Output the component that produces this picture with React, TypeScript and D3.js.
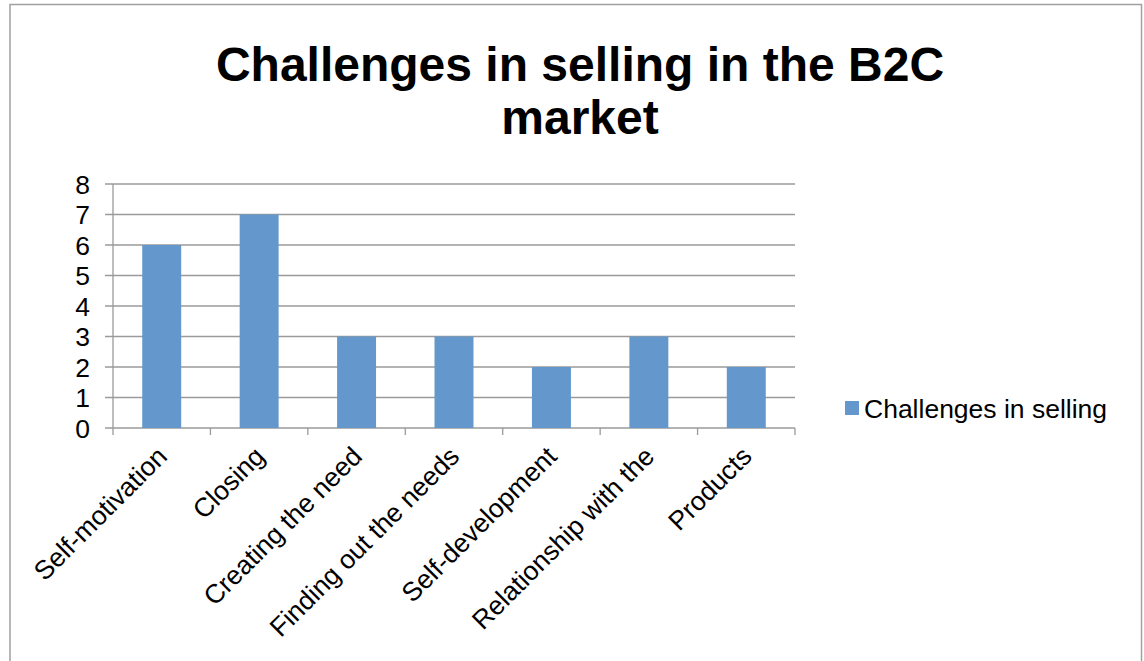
import React from "react";
import * as d3 from "d3";

const categories = [
  "Self-motivation",
  "Closing",
  "Creating the need",
  "Finding out the needs",
  "Self-development",
  "Relationship with the",
  "Products",
];
const values = [6, 7, 3, 3, 2, 3, 2];
const yTicks = [0, 1, 2, 3, 4, 5, 6, 7, 8];
const seriesName = "Challenges in selling";
const titleLines = ["Challenges in selling in the B2C", "market"];

export default function App() {
  const W = 1144;
  const H = 661;
  const left = 113;
  const right = 795;
  const top = 184;
  const bottom = 428;
  const x = d3.scaleBand<string>().domain(categories).range([left, right]).paddingInner(0).paddingOuter(0);
  const y = d3.scaleLinear().domain([0, 8]).range([bottom, top]);
  const step = x.step();
  const barW = step / 2.5;
  const font = "'Liberation Sans', Arial, sans-serif";
  const grid = "#9a9a9a";
  const barColor = "#6498cc";
  return (
    <svg width={W} height={H} style={{ position: "absolute", left: 0, top: 0 }}>
      <rect x={0} y={0} width={W} height={H} fill="#fff" />
      <rect x={10} y={4.5} width={1131.5} height={H + 10} fill="none" stroke="#a0a0a0" strokeWidth={1.5} />
      {titleLines.map((t, i) => (
        <text key={i} x={580} y={81 + i * 53} textAnchor="middle" fontFamily={font} fontWeight="bold" fontSize={48} fill="#000">
          {t}
        </text>
      ))}
      {yTicks.map((t) => (
        <g key={t}>
          <line x1={105} x2={right} y1={y(t)} y2={y(t)} stroke={grid} strokeWidth={1.3} />
          <text x={90} y={y(t) + 9.5} textAnchor="end" fontFamily={font} fontSize={26.5} fill="#000">
            {t}
          </text>
        </g>
      ))}
      <line x1={left} x2={left} y1={top} y2={bottom} stroke={grid} strokeWidth={1.3} />
      {categories.map((c, i) => (
        <rect key={c} x={(x(c) as number) + (step - barW) / 2} y={y(values[i])} width={barW} height={bottom - y(values[i])} fill={barColor} />
      ))}
      {d3.range(categories.length + 1).map((i) => (
        <line key={i} x1={left + i * step} x2={left + i * step} y1={bottom} y2={bottom + 7} stroke={grid} strokeWidth={1.3} />
      ))}
      {categories.map((c) => {
        const cx = (x(c) as number) + step / 2 + 7;
        const cy = bottom + 30;
        return (
          <text key={c} x={cx} y={cy} textAnchor="end" fontFamily={font} fontSize={26.5} fill="#000" transform={`rotate(-45 ${cx} ${cy})`}>
            {c}
          </text>
        );
      })}
      <rect x={845} y={401} width={14} height={14} fill={barColor} />
      <text x={864} y={418} fontFamily={font} fontSize={26.5} fill="#000">
        {seriesName}
      </text>
    </svg>
  );
}
